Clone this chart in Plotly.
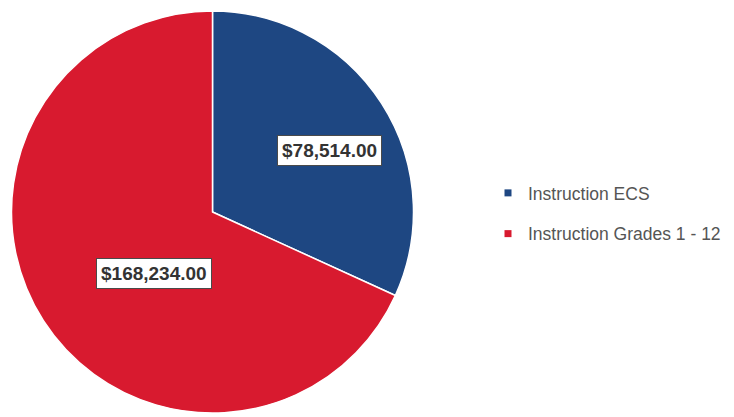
import math
import plotly.graph_objects as go

categories = ["Instruction ECS", "Instruction Grades 1 - 12"]
amounts = [78514.00, 168234.00]
colors = ["#1e4782", "#d81a2f"]

W, H = 734, 417
OFF = 8  # page body margin in the browser
cx, cy, R = 212.5 - OFF, 212 - OFF, 201
label_radius = 0.655
label_angle_shift = 5.0  # degrees

fig = go.Figure()
fig.add_trace(go.Pie(
    labels=categories, values=amounts, sort=False, direction="clockwise",
    rotation=0, marker=dict(colors=colors, line=dict(color="white", width=1.5)),
    textinfo="none", hoverinfo="label+value", showlegend=False,
    domain=dict(x=[(cx - R) / W, (cx + R) / W], y=[1 - (cy + R) / H, 1 - (cy - R) / H]),
))

# legend entries
for cat, col in zip(categories, colors):
    fig.add_trace(go.Scatter(
        x=[None], y=[None], mode="markers", name=cat, legendgroup=cat,
        marker=dict(symbol="square", size=7, color=col), hoverinfo="skip",
    ))

total = sum(amounts)
start = 0.0
for v in amounts:
    mid = math.radians((start + v / 2) / total * 360 + label_angle_shift)
    start += v
    px = cx + label_radius * R * math.sin(mid)
    py = cy - label_radius * R * math.cos(mid)
    fig.add_annotation(
        x=px / W, y=1 - py / H, xref="paper", yref="paper",
        text="<b>${:,.2f}</b>".format(v), showarrow=False,
        font=dict(family="Liberation Sans, Arial, sans-serif", size=19, color="#333333"),
        bgcolor="white", bordercolor="#4a4a4a", borderwidth=1, borderpad=4,
    )

fig.update_layout(
    width=W, height=H, margin=dict(l=0, r=0, t=0, b=0),
    paper_bgcolor="white", plot_bgcolor="white",
    xaxis=dict(visible=False), yaxis=dict(visible=False),
    showlegend=True,
    legend=dict(x=480 / W, y=1 - 167 / H, xanchor="left", yanchor="top",
                font=dict(family="Liberation Sans, Arial, sans-serif", size=17.5, color="#555555"),
                tracegroupgap=15, itemwidth=30, bgcolor="rgba(0,0,0,0)"),
)
fig.write_html("out.html")
